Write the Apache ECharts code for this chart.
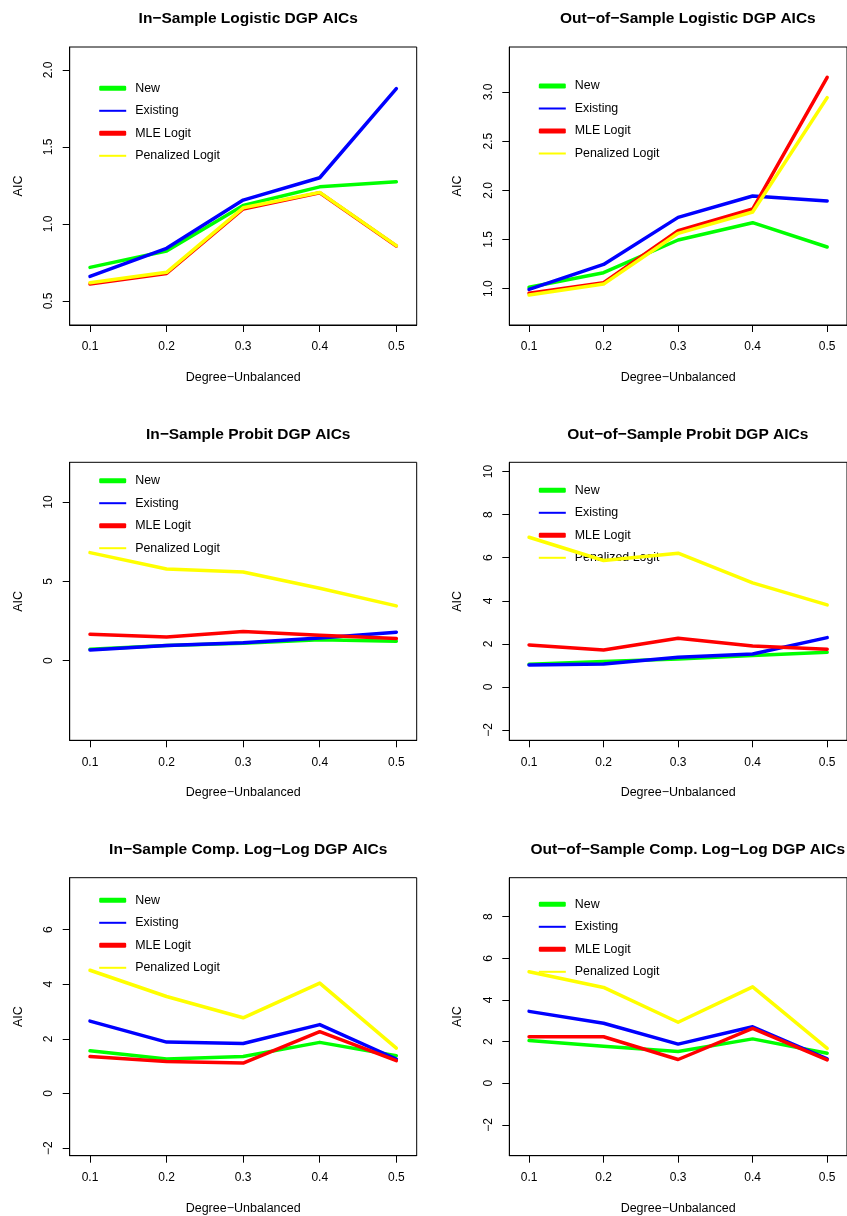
<!DOCTYPE html>
<html><head><meta charset="utf-8">
<script src="https://cdn.jsdelivr.net/npm/echarts@6/dist/echarts.min.js"></script>
<style>html,body{margin:0;padding:0;background:#fff}#c{width:847px;height:1216px}</style>
</head><body><div id="c"></div><script>
// ---------- data ----------
const categories = [0.1, 0.2, 0.3, 0.4, 0.5];
const xTickLabels = ['0.1', '0.2', '0.3', '0.4', '0.5'];
const seriesNames = ['New', 'Existing', 'MLE Logit', 'Penalized Logit'];
const seriesColors = ['#00ff00', '#0000ff', '#ff0000', '#ffff00'];
const panelTitles = [
  'In−Sample Logistic DGP AICs',
  'Out−of−Sample Logistic DGP AICs',
  'In−Sample Probit DGP AICs',
  'Out−of−Sample Probit DGP AICs',
  'In−Sample Comp. Log−Log DGP AICs',
  'Out−of−Sample Comp. Log−Log DGP AICs'
];
const xAxisTitle = 'Degree−Unbalanced';
const yAxisTitle = 'AIC';

// Panel 1: In-Sample Logistic
const inLogisticNew       = [0.718, 0.824, 1.120, 1.241, 1.274];
const inLogisticExisting  = [0.660, 0.842, 1.155, 1.300, 1.879];
const inLogisticMLE       = [0.610, 0.679, 1.097, 1.203, 0.857];
const inLogisticPenalized = [0.619, 0.686, 1.105, 1.205, 0.859];
const yTicks1 = [0.5, 1.0, 1.5, 2.0];
const yTickLabels1 = ['0.5', '1.0', '1.5', '2.0'];

// Panel 2: Out-of-Sample Logistic
const outLogisticNew       = [1.014, 1.163, 1.495, 1.671, 1.424];
const outLogisticExisting  = [0.993, 1.247, 1.725, 1.942, 1.892];
const outLogisticMLE       = [0.953, 1.061, 1.590, 1.810, 3.149];
const outLogisticPenalized = [0.936, 1.047, 1.563, 1.780, 2.942];
const yTicks2 = [1.0, 1.5, 2.0, 2.5, 3.0];
const yTickLabels2 = ['1.0', '1.5', '2.0', '2.5', '3.0'];

// Panel 3: In-Sample Probit
const inProbitNew       = [0.72, 0.95, 1.10, 1.32, 1.22];
const inProbitExisting  = [0.67, 0.95, 1.13, 1.43, 1.79];
const inProbitMLE       = [1.66, 1.49, 1.83, 1.60, 1.39];
const inProbitPenalized = [6.81, 5.78, 5.59, 4.56, 3.45];
const yTicks3 = [0, 5, 10];
const yTickLabels3 = ['0', '5', '10'];

// Panel 4: Out-of-Sample Probit
const outProbitNew       = [1.05, 1.18, 1.30, 1.46, 1.61];
const outProbitExisting  = [1.02, 1.07, 1.38, 1.53, 2.29];
const outProbitMLE       = [1.95, 1.72, 2.26, 1.90, 1.75];
const outProbitPenalized = [6.95, 5.87, 6.21, 4.83, 3.81];
const yTicks4 = [-2, 0, 2, 4, 6, 8, 10];
const yTickLabels4 = ['−2', '0', '2', '4', '6', '8', '10'];

// Panel 5: In-Sample Comp. Log-Log
const inCloglogNew       = [1.56, 1.26, 1.35, 1.87, 1.38];
const inCloglogExisting  = [2.65, 1.88, 1.83, 2.52, 1.26];
const inCloglogMLE       = [1.35, 1.17, 1.11, 2.26, 1.20];
const inCloglogPenalized = [4.51, 3.55, 2.77, 4.04, 1.66];
const yTicks5 = [-2, 0, 2, 4, 6];
const yTickLabels5 = ['−2', '0', '2', '4', '6'];

// Panel 6: Out-of-Sample Comp. Log-Log
const outCloglogNew       = [2.05, 1.78, 1.52, 2.13, 1.44];
const outCloglogExisting  = [3.45, 2.88, 1.88, 2.71, 1.17];
const outCloglogMLE       = [2.23, 2.23, 1.14, 2.63, 1.12];
const outCloglogPenalized = [5.35, 4.60, 2.93, 4.63, 1.67];
const yTicks6 = [-2, 0, 2, 4, 6, 8];
const yTickLabels6 = ['−2', '0', '2', '4', '6', '8'];

// ---------- layout ----------
const FONT = '"Liberation Sans", Arial, Helvetica, sans-serif';
const panels = [
  { left: 69.7,  top: 47,    ymin: 0.344, ymax: 2.149, yTicks: yTicks1, yLabels: yTickLabels1, legendTop: 88.3,
    values: [inLogisticNew, inLogisticExisting, inLogisticMLE, inLogisticPenalized] },
  { left: 509.3, top: 47,    ymin: 0.631, ymax: 3.457, yTicks: yTicks2, yLabels: yTickLabels2, legendTop: 86,
    values: [outLogisticNew, outLogisticExisting, outLogisticMLE, outLogisticPenalized] },
  { left: 69.7,  top: 462.3, ymin: -5.02, ymax: 12.5,  yTicks: yTicks3, yLabels: yTickLabels3, legendTop: 480.7,
    values: [inProbitNew, inProbitExisting, inProbitMLE, inProbitPenalized] },
  { left: 509.3, top: 462.3, ymin: -2.477, ymax: 10.43, yTicks: yTicks4, yLabels: yTickLabels4, legendTop: 490.3,
    values: [outProbitNew, outProbitExisting, outProbitMLE, outProbitPenalized] },
  { left: 69.7,  top: 877.7, ymin: -2.28, ymax: 7.90,  yTicks: yTicks5, yLabels: yTickLabels5, legendTop: 900.3,
    values: [inCloglogNew, inCloglogExisting, inCloglogMLE, inCloglogPenalized] },
  { left: 509.3, top: 877.7, ymin: -3.48, ymax: 9.87,  yTicks: yTicks6, yLabels: yTickLabels6, legendTop: 904.3,
    values: [outCloglogNew, outCloglogExisting, outCloglogMLE, outCloglogPenalized] }
];
const GW = 347, GH = 278;
const XMIN = 0.0735, XMAX = 0.5266;
const thinIcon = 'path://M0,0 H27 V2 H0 Z';
const legendIcons = ['roundRect', thinIcon, 'roundRect', thinIcon];

const option = {
  animation: false,
  backgroundColor: '#fff',
  title: [], grid: [], xAxis: [], yAxis: [], legend: [], series: []
};

panels.forEach((p, i) => {
  option.title.push({
    text: panelTitles[i], left: p.left + GW / 2, top: p.top - 41, textAlign: 'center',
    textStyle: { fontFamily: FONT, fontWeight: 'bold', fontSize: 15.5, color: '#000' }
  });
  option.grid.push({
    left: p.left, top: p.top, width: GW, height: GH,
    show: true, borderColor: '#000', borderWidth: 1, backgroundColor: 'transparent'
  });
  option.xAxis.push({
    type: 'value', gridIndex: i, min: XMIN, max: XMAX,
    name: xAxisTitle, nameLocation: 'middle', nameGap: 46,
    nameTextStyle: { fontFamily: FONT, fontSize: 12.5, color: '#000' },
    axisLine: { show: true, onZero: false, lineStyle: { color: '#000', width: 1 } },
    axisTick: { show: true, inside: false, length: 7, customValues: categories, lineStyle: { color: '#000' } },
    axisLabel: { show: true, margin: 16, customValues: categories, fontFamily: FONT, fontSize: 12, color: '#000',
      formatter: v => xTickLabels[categories.findIndex(c => Math.abs(c - v) < 1e-6)] },
    splitLine: { show: false }
  });
  option.yAxis.push({
    type: 'value', gridIndex: i, min: p.ymin, max: p.ymax,
    name: yAxisTitle, nameLocation: 'middle', nameGap: 45, nameRotate: 90,
    nameTextStyle: { fontFamily: FONT, fontSize: 12.5, color: '#000' },
    axisLine: { show: true, onZero: false, lineStyle: { color: '#000', width: 1 } },
    axisTick: { show: true, inside: false, length: 7, customValues: p.yTicks, lineStyle: { color: '#000' } },
    axisLabel: { show: true, rotate: 90, margin: 15, customValues: p.yTicks, fontFamily: FONT, fontSize: 12, color: '#000',
      formatter: v => p.yLabels[p.yTicks.findIndex(c => Math.abs(c - v) < 1e-6)] },
    splitLine: { show: false }
  });
  option.legend.push({
    left: p.left + 29.5, top: p.legendTop - 7, orient: 'vertical', padding: 0,
    itemWidth: 27, itemHeight: 5, itemGap: 8.5, selectedMode: false,
    textStyle: { fontFamily: FONT, fontSize: 12.4, color: '#000', lineHeight: 14, padding: [0, 0, 0, 4] },
    data: seriesNames.map((n, k) => ({ name: n, icon: legendIcons[k], itemStyle: { color: seriesColors[k], borderWidth: 0 } }))
  });
  seriesNames.forEach((n, k) => {
    option.series.push({
      type: 'line', name: n, xAxisIndex: i, yAxisIndex: i,
      data: categories.map((c, j) => [c, p.values[k][j]]),
      symbol: 'none', showSymbol: false, clip: false, z: 2 + k,
      color: seriesColors[k],
      lineStyle: { color: seriesColors[k], width: 3.5, cap: 'round', join: 'round' }
    });
  });
});

const chart = echarts.init(document.getElementById('c'), null, { renderer: 'canvas', width: 847, height: 1216 });
chart.setOption(option);
</script></body></html>
